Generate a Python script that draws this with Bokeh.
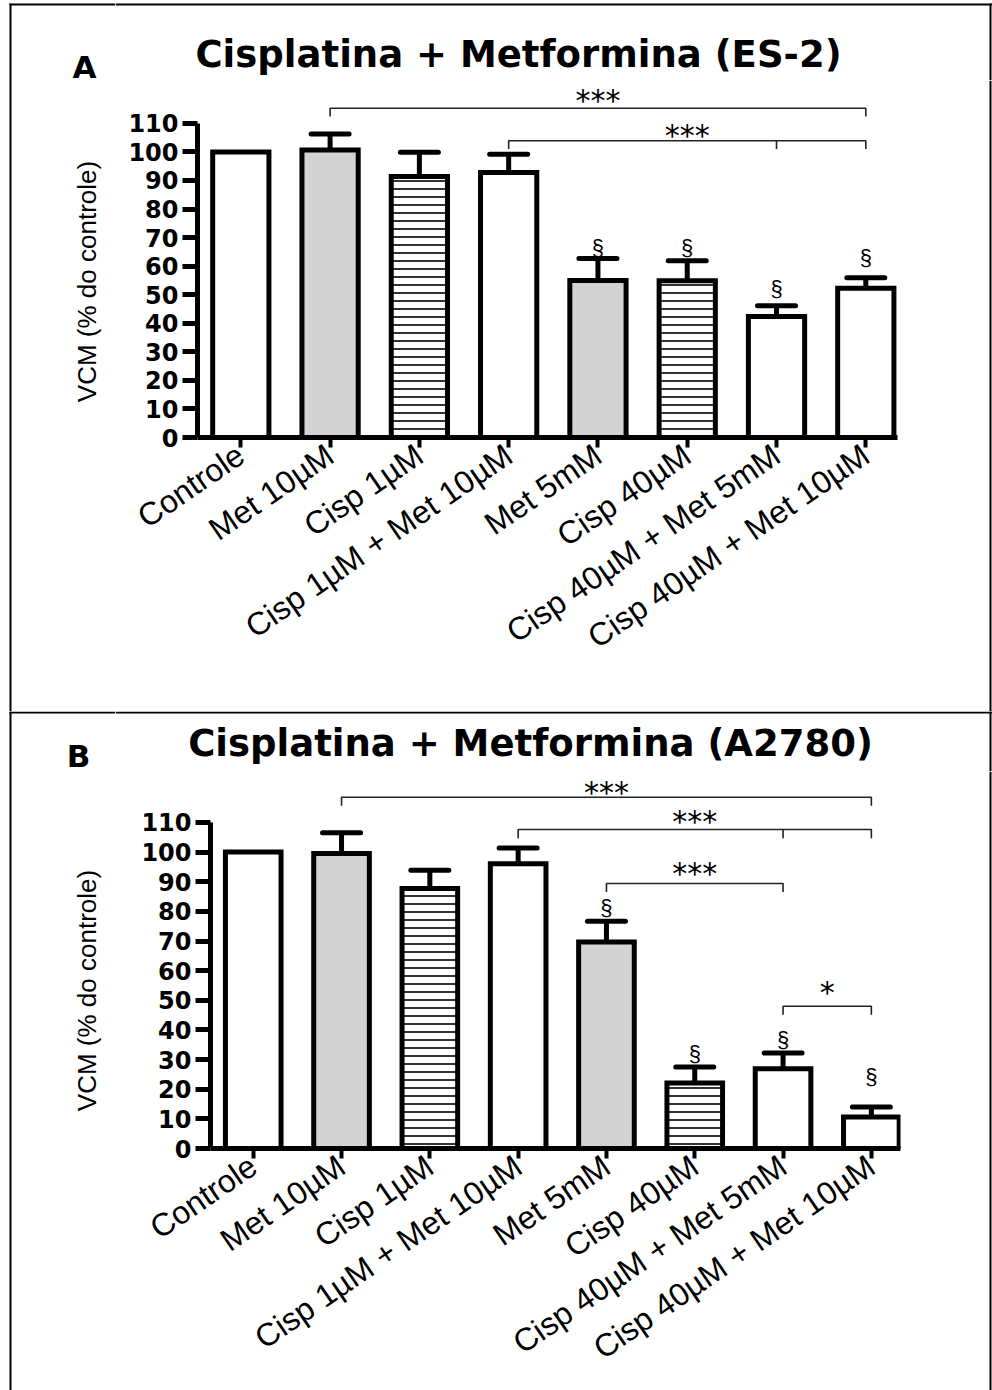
from math import radians, pi
from bokeh.plotting import figure
from bokeh.models import ColumnDataSource, FixedTicker, Whisker, TeeHead, Range1d
from bokeh.layouts import column, row
from bokeh.embed import file_html
from bokeh.resources import INLINE
from bokeh.core.properties import value

# ---------------- data ----------------
categories = ["Controle", "Met 10µM", "Cisp 1µM", "Cisp 1µM + Met 10µM",
              "Met 5mM", "Cisp 40µM", "Cisp 40µM + Met 5mM", "Cisp 40µM + Met 10µM"]
bar_style = ["white", "gray", "hatch", "white", "gray", "hatch", "white", "white"]
y_ticks = [0, 10, 20, 30, 40, 50, 60, 70, 80, 90, 100, 110]
y_label = "VCM (% do controle)"

es2_title = "Cisplatina + Metformina (ES-2)"
es2_mean = [100, 100.7, 91.4, 92.8, 55.0, 54.9, 42.4, 52.3]
es2_sem = [0, 5.6, 8.5, 6.4, 7.7, 7.0, 3.7, 3.6]
es2_sect_idx = [4, 5, 6, 7]
es2_sect_y = [66.7, 66.7, 52.0, 63.2]
es2_br_start = [1, 3]
es2_br_mid = [None, 6]
es2_br_end = [7, 7]
es2_br_y = [115.3, 103.9]
es2_br_label = ["***", "***"]
es2_br_label_y = [119.7, 107.4]

a2780_title = "Cisplatina + Metformina (A2780)"
a2780_mean = [100, 99.5, 87.7, 96.1, 69.7, 22.1, 26.9, 10.6]
a2780_sem = [0, 7.0, 6.2, 5.3, 7.0, 5.4, 5.3, 3.4]
a2780_sect_idx = [4, 5, 6, 7]
a2780_sect_y = [81.2, 32.2, 36.8, 24.4]
a2780_br_start = [1, 3, 4, 6]
a2780_br_mid = [None, 6, None, None]
a2780_br_end = [7, 7, 6, 7]
a2780_br_y = [118.5, 107.6, 89.4, 48.0]
a2780_br_label = ["***", "***", "***", "*"]
a2780_br_label_y = [121.7, 111.9, 94.5, 54.2]

FILL = {"white": "#ffffff", "gray": "#d3d3d3", "hatch": "#ffffff"}
HATCH = {"white": " ", "gray": " ", "hatch": "-"}
PAGE_W = 992
LEFT_W = 115
RIGHT_W = 12
HEAD_W = PAGE_W - LEFT_W
MAIN_W = HEAD_W - RIGHT_W


def bare_fig(w, h):
    # pixel-like coordinates, y growing downwards (used for frame lines and headings)
    p = figure(width=w, height=h, x_range=Range1d(0, w), y_range=Range1d(h, 0),
               output_backend="svg", toolbar_location=None, min_border=0,
               x_axis_location=None, y_axis_location=None, outline_line_color=None,
               frame_align=False)
    p.grid.visible = False
    p.background_fill_color = "white"
    p.border_fill_color = "white"
    return p


def left_fig(h, line_y, letter, letter_xy, label_xy):
    p = bare_fig(LEFT_W, h)
    p.segment(x0=[9, 10], y0=[line_y, line_y - 1], x1=[LEFT_W, 10], y1=[line_y, h],
              line_color="black", line_width=2)
    p.text(x=[letter_xy[0]], y=[letter_xy[1]], text=[letter], text_align="center",
           text_baseline="middle", text_font=value("DejaVu Sans"),
           text_font_style="bold", text_font_size="31px", text_color="black")
    p.text(x=[label_xy[0]], y=[label_xy[1]], text=[y_label], angle=pi / 2,
           text_align="center", text_baseline="middle",
           text_font=value("Liberation Sans"), text_font_size="26px", text_color="black")
    return p


def header_fig(h, line_y, title, title_xy):
    p = bare_fig(HEAD_W, h)
    rx = HEAD_W - 2
    p.segment(x0=[0, rx], y0=[line_y, line_y - 1], x1=[HEAD_W, rx], y1=[line_y, h],
              line_color="black", line_width=2)
    p.text(x=[title_xy[0]], y=[title_xy[1]], text=[title], text_align="center",
           text_baseline="middle", text_font=value("DejaVu Sans"),
           text_font_style="bold", text_font_size="37px", text_color="black")
    return p


def right_fig(h):
    p = bare_fig(RIGHT_W, h)
    p.segment(x0=[10], y0=[0], x1=[10], y1=[h], line_color="black", line_width=2)
    return p


def main_fig(mean, sem, sect_idx, sect_y, br_start, br_mid, br_end, br_y, br_label,
             br_label_y, geom):
    (H, left, right, bottom, x0, x1, y1) = geom
    p = figure(width=MAIN_W, height=H, x_range=Range1d(x0, x1), y_range=Range1d(0, y1),
               output_backend="svg", toolbar_location=None, frame_align=False,
               min_border_left=left, min_border_right=right,
               min_border_top=0, min_border_bottom=bottom)
    p.xgrid.visible = False
    p.ygrid.visible = False
    p.outline_line_color = None
    p.background_fill_color = "white"
    p.border_fill_color = "white"

    src = ColumnDataSource(dict(
        x=list(range(len(categories))), top=mean,
        fill=[FILL[s] for s in bar_style], hatch=[HATCH[s] for s in bar_style]))
    p.vbar(x="x", top="top", width=0.63, source=src, fill_color="fill",
           line_color="black", line_width=5, line_join="miter",
           hatch_pattern="hatch", hatch_color="black", hatch_scale=8, hatch_weight=1.6)

    ex = [i for i, e in enumerate(sem) if e > 0]
    err = ColumnDataSource(dict(x=ex, lower=[mean[i] for i in ex],
                                upper=[mean[i] + sem[i] for i in ex]))
    p.add_layout(Whisker(base="x", lower="lower", upper="upper", source=err,
                         dimension="height", line_width=5, line_color="black",
                         level="overlay",
                         upper_head=TeeHead(size=38, line_width=5, line_color="black",
                                            line_cap="round"),
                         lower_head=None))

    # significance brackets
    drop = 2.9
    xs, ys = [], []
    for s, m, e, y in zip(br_start, br_mid, br_end, br_y):
        xs.append([s, s, e, e]); ys.append([y - drop, y, y, y - drop])
        if m is not None:
            xs.append([m, m]); ys.append([y, y - drop])
    p.multi_line(xs, ys, line_color="#222222", line_width=1.6)
    p.text(x=[(s + e) / 2 for s, e in zip(br_start, br_end)], y=br_label_y, text=br_label,
           text_align="center", text_baseline="middle", y_offset=5,
           text_font=value("DejaVu Sans"), text_font_size="30px", text_color="black")
    p.text(x=sect_idx, y=sect_y, text=["§"] * len(sect_idx), text_align="center",
           text_baseline="middle", text_font=value("Liberation Sans"),
           text_font_size="22px", text_color="black")

    # axes
    p.xaxis.ticker = FixedTicker(ticks=list(range(len(categories))))
    p.xaxis.major_label_overrides = {i: c for i, c in enumerate(categories)}
    p.xaxis.major_label_orientation = radians(34.5)
    p.xaxis.major_label_text_font = "Liberation Sans"
    p.xaxis.major_label_text_font_size = "32px"
    p.xaxis.major_label_text_color = "black"
    p.xaxis.major_label_standoff = 4
    p.xaxis.axis_line_width = 5
    p.xaxis.major_tick_line_width = 4
    p.xaxis.major_tick_out = 10
    p.xaxis.major_tick_in = 0
    p.xaxis.minor_tick_line_color = None

    p.yaxis.ticker = FixedTicker(ticks=y_ticks)
    p.yaxis.bounds = (0, 110)
    p.yaxis.axis_line_width = 5
    p.yaxis.major_tick_line_width = 5
    p.yaxis.major_tick_out = 15
    p.yaxis.major_tick_in = 0
    p.yaxis.minor_tick_line_color = None
    p.yaxis.major_label_text_font = "DejaVu Sans"
    p.yaxis.major_label_text_font_style = "bold"
    p.yaxis.major_label_text_font_size = "24px"
    p.yaxis.major_label_text_color = "black"
    p.yaxis.major_label_standoff = 4
    return p


# ---- panel A (window y 0..711) ----
headA = header_fig(80, 4, es2_title, (518 - LEFT_W, 54))
mainA = main_fig(es2_mean, es2_sem, es2_sect_idx, es2_sect_y, es2_br_start, es2_br_mid,
                 es2_br_end, es2_br_y, es2_br_label, es2_br_label_y,
                 (631, 197 - LEFT_W, 83, 274, -0.485, 7.355, 125.0))
panelA = row(left_fig(711, 4, "A", (84, 66.5), (86, 281)),
             column(headA, row(mainA, right_fig(631), spacing=0), spacing=0), spacing=0)

# ---- panel B (window y 711..1390) ----
headB = header_fig(60, 1, a2780_title, (530 - LEFT_W, 32))
mainB = main_fig(a2780_mean, a2780_sem, a2780_sect_idx, a2780_sect_y, a2780_br_start,
                 a2780_br_mid, a2780_br_end, a2780_br_y, a2780_br_label, a2780_br_label_y,
                 (619, 210 - LEFT_W, 80, 242, -0.484, 7.33, 377 / 2.964))
panelB = row(left_fig(679, 1, "B", (78, 44), (86, 279)),
             column(headB, row(mainB, right_fig(619), spacing=0), spacing=0), spacing=0)

layout = column(panelA, panelB, spacing=0)

open("out.html", "w").write(file_html(layout, INLINE))
